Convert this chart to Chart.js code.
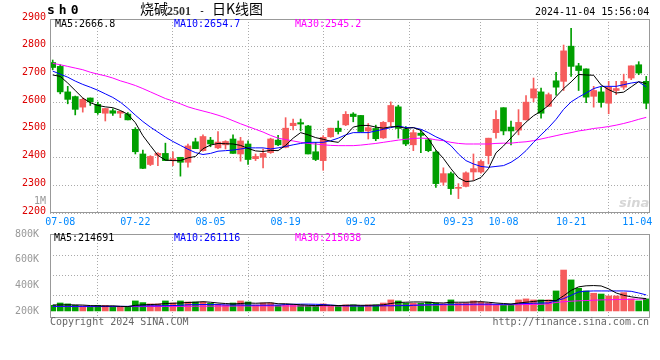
<!DOCTYPE html>
<html>
<head>
<meta charset="utf-8">
<script src="https://cdn.jsdelivr.net/npm/chart.js@4.4.1/dist/chart.umd.min.js"></script>
<style>
  body { margin: 0; background: #fff; width: 660px; height: 360px; position: relative; overflow: hidden; }
  canvas { position: absolute; left: 0; }
  #main { top: 0; }
  #vol { top: 226px; }
  .t { position: absolute; white-space: pre; font: 10px/12px 'DejaVu Sans Mono', monospace; color: #000; }
  .cjk { font: 14px/16px 'Noto Sans CJK SC', sans-serif; }
</style>
</head>
<body>
<canvas id="main" width="660" height="235"></canvas>
<canvas id="vol" width="660" height="100"></canvas>

<div class="t" style="left:47px;top:3px;font-weight:bold;font-size:13px;line-height:14px;letter-spacing:4px">sh0</div>
<div class="t cjk" style="left:140px;top:0">烧碱</div>
<div class="t" style="left:167px;top:4px;font:bold 12px/14px 'Liberation Serif',serif;color:#333">2501</div>
<div class="t" style="left:199px;top:5px">-</div>
<div class="t cjk" style="left:212px;top:0">日K线图</div>
<div class="t" style="left:535px;top:6px">2024-11-04 15:56:04</div>

<div class="t" style="left:55px;top:18px">MA5:2666.8</div>
<div class="t" style="left:174px;top:18px;color:#0000ff">MA10:2654.7</div>
<div class="t" style="left:295px;top:18px;color:#ff00ff">MA30:2545.2</div>
<div class="t" style="right:614px;top:195px;color:#999">1M</div>
<div class="t" style="left:619px;top:195px;font:italic bold 13px/15px 'DejaVu Sans',sans-serif;color:#d6d6d6">sina</div>

<div class="t" style="left:54px;top:232px">MA5:214691</div>
<div class="t" style="left:174px;top:232px;color:#0000ff">MA10:261116</div>
<div class="t" style="left:295px;top:232px;color:#ff00ff">MA30:215038</div>

<div class="t" style="left:50px;top:316px;color:#666">Copyright 2024 SINA.COM</div>
<div class="t" style="right:11px;top:316px;color:#666">http://finance.sina.com.cn</div>

<script>
// trading days shown, 07-05 .. 11-04
const dates = [
  '07-05','07-08','07-09','07-10','07-11','07-12','07-15','07-16','07-17','07-18',
  '07-19','07-22','07-23','07-24','07-25','07-26','07-29','07-30','07-31','08-01',
  '08-02','08-05','08-06','08-07','08-08','08-09','08-12','08-13','08-14','08-15',
  '08-16','08-19','08-20','08-21','08-22','08-23','08-26','08-27','08-28','08-29',
  '08-30','09-02','09-03','09-04','09-05','09-06','09-09','09-10','09-11','09-12',
  '09-13','09-18','09-19','09-20','09-23','09-24','09-25','09-26','09-27','09-30',
  '10-08','10-09','10-10','10-11','10-14','10-15','10-16','10-17','10-18','10-21',
  '10-22','10-23','10-24','10-25','10-28','10-29','10-30','10-31','11-01','11-04'
];
const tickDates = ['07-08','07-22','08-05','08-19','09-02','09-23','10-08','10-21','11-04'];

const open = [
  2743,2729,2637,2620,2582,2615,2592,2560,2569,2560,
  2557,2502,2413,2375,2408,2415,2389,2401,2383,2457,
  2425,2463,2435,2446,2467,2413,2449,2396,2401,2418,
  2463,2437,2515,2526,2514,2421,2389,2475,2506,2518,
  2557,2552,2496,2505,2471,2529,2583,2502,2446,2488,
  2464,2420,2311,2342,2289,2296,2348,2348,2407,2490,
  2580,2510,2499,2536,2615,2637,2585,2677,2675,2802,
  2731,2720,2621,2637,2596,2642,2654,2687,2735,2675
];
const high = [
  2752,2735,2657,2622,2615,2615,2600,2577,2576,2567,
  2562,2508,2427,2407,2418,2452,2421,2401,2449,2470,
  2482,2473,2494,2461,2482,2473,2460,2413,2431,2470,
  2480,2544,2539,2539,2516,2455,2479,2506,2532,2566,
  2562,2552,2523,2517,2530,2601,2589,2512,2499,2499,
  2467,2425,2363,2348,2306,2349,2413,2392,2470,2570,
  2580,2532,2573,2624,2687,2651,2633,2708,2806,2866,
  2740,2720,2657,2654,2675,2675,2701,2731,2746,2693
];
const low = [
  2717,2630,2594,2554,2564,2588,2556,2532,2552,2544,
  2536,2413,2360,2371,2371,2389,2371,2333,2365,2432,
  2423,2439,2432,2431,2415,2387,2375,2389,2363,2415,
  2443,2435,2500,2496,2413,2389,2354,2473,2485,2515,
  2529,2492,2467,2461,2469,2514,2470,2443,2425,2418,
  2421,2292,2300,2267,2252,2294,2318,2344,2377,2470,
  2482,2446,2482,2536,2601,2542,2585,2625,2642,2693,
  2642,2598,2582,2582,2558,2627,2646,2681,2699,2576
];
const close = [
  2725,2637,2610,2574,2610,2601,2562,2577,2560,2567,
  2536,2421,2361,2404,2415,2389,2396,2383,2442,2432,
  2476,2449,2456,2458,2415,2460,2393,2404,2415,2467,
  2446,2506,2524,2521,2413,2393,2473,2506,2494,2556,
  2548,2494,2508,2468,2527,2588,2505,2449,2490,2480,
  2425,2306,2342,2288,2292,2345,2360,2386,2470,2538,
  2496,2496,2527,2600,2648,2560,2627,2654,2785,2729,
  2714,2618,2642,2599,2654,2649,2675,2731,2705,2596
];
const ma5 = [
  2698,2693,2669,2642,2615,2598,2588,2583,2580,2570,
  2556,2526,2479,2443,2408,2391,2389,2389,2399,2404,
  2432,2445,2451,2450,2449,2444,2433,2424,2422,2426,
  2425,2444,2470,2490,2482,2472,2466,2459,2455,2480,
  2510,2516,2516,2510,2506,2511,2512,2505,2508,2498,
  2468,2427,2397,2360,2327,2313,2316,2328,2360,2417,
  2442,2471,2500,2528,2551,2567,2588,2620,2649,2673,
  2700,2698,2697,2662,2645,2633,2636,2655,2674,2667
];
const ma10 = [
  2712,2701,2690,2676,2664,2654,2643,2630,2617,2600,
  2578,2553,2530,2510,2492,2474,2458,2444,2430,2418,
  2411,2415,2423,2425,2427,2431,2435,2435,2435,2431,
  2435,2440,2446,2451,2455,2455,2455,2461,2470,2482,
  2490,2490,2490,2496,2502,2508,2514,2508,2508,2502,
  2490,2475,2463,2443,2413,2389,2377,2368,2365,2368,
  2371,2383,2401,2425,2455,2482,2508,2538,2574,2601,
  2618,2633,2649,2657,2657,2657,2663,2669,2673,2655
];
const ma30 = [
  2740,2735,2729,2723,2717,2708,2701,2695,2687,2677,
  2669,2660,2649,2637,2625,2613,2604,2594,2583,2575,
  2568,2561,2553,2544,2533,2522,2512,2502,2492,2480,
  2470,2465,2460,2455,2451,2449,2446,2444,2443,2443,
  2443,2445,2448,2451,2455,2459,2463,2466,2469,2470,
  2469,2464,2461,2455,2451,2449,2449,2449,2449,2451,
  2452,2452,2455,2457,2461,2467,2473,2479,2485,2490,
  2496,2500,2505,2508,2512,2517,2523,2530,2538,2545
];

const volume = [
  244000,262000,255000,244000,239000,234000,244000,244000,234000,231000,
  231000,278000,265000,255000,255000,278000,262000,278000,270000,270000,
  270000,260000,252000,247000,262000,278000,270000,247000,262000,262000,
  244000,247000,244000,244000,239000,239000,255000,239000,239000,247000,
  247000,239000,247000,247000,262000,286000,278000,260000,260000,260000,
  270000,260000,255000,286000,260000,262000,278000,270000,262000,247000,
  247000,247000,286000,294000,286000,286000,286000,356000,519000,442000,
  377000,356000,338000,332000,317000,317000,343000,294000,278000,294000
];
const vma5 = [
  247000,247000,248000,247000,246000,242000,240000,238000,240000,236000,
  234000,244000,248000,250000,252000,258000,260000,262000,266000,268000,
  272000,268000,262000,258000,254000,258000,262000,260000,262000,264000,
  256000,256000,252000,248000,244000,242000,244000,244000,242000,244000,
  246000,244000,244000,246000,248000,258000,266000,268000,270000,270000,
  268000,264000,262000,268000,268000,268000,270000,272000,268000,262000,
  258000,254000,262000,268000,274000,280000,282000,280000,318000,360000,
  388000,396000,398000,395000,372000,340000,322000,310000,302000,296000
];
const vma10 = [
  236000,236000,236000,236000,236000,236000,236000,236000,236000,236000,
  236000,239000,239000,240000,240000,241000,242000,244000,248000,249000,
  250000,250000,249000,247000,246000,246000,245000,245000,245000,245000,
  246000,250000,252000,253000,253000,252000,250000,246000,242000,240000,
  239000,239000,239000,239000,240000,240000,241000,242000,244000,246000,
  248000,250000,252000,252000,252000,252000,253000,253000,253000,252000,
  252000,252000,256000,258000,260000,262000,262000,280000,296000,322000,
  348000,354000,356000,356000,356000,356000,356000,353000,340000,325000
];
const vma30 = [
  235000,235000,234000,234000,234000,234000,234000,234000,234000,234000,
  234000,234000,234000,235000,235000,235000,236000,236000,236000,237000,
  237000,237000,238000,238000,238000,239000,239000,239000,239000,239000,
  239000,239000,239000,239000,239000,239000,239000,239000,239000,239000,
  240000,240000,241000,242000,243000,244000,244000,244000,245000,245000,
  246000,246000,247000,247000,247000,247000,247000,247000,247000,247000,
  248000,248000,249000,250000,251000,252000,256000,266000,272000,276000,
  279000,281000,284000,286000,287000,289000,290000,291000,292000,293000
];
const volTicks = [200000, 400000, 600000, 800000];

const RED = '#f65c5c', GREEN = '#009f00';
const MONO = "'DejaVu Sans Mono', monospace";
Chart.defaults.font.family = MONO;
Chart.defaults.font.size = 10;

const idx = dates.map((d, i) => i);
const up = close.map((c, i) => c >= open[i]);
const barColors = up.map(u => u ? RED : GREEN);
const tickIdx = tickDates.map(d => dates.indexOf(d));
const pts = arr => idx.map(i => ({x: i, y: arr[i]}));

// grey box round each pane
const frame = {
  id: 'frame',
  afterDraw(chart) {
    const {ctx, chartArea: a} = chart;
    ctx.save();
    ctx.strokeStyle = '#999';
    ctx.lineWidth = 1;
    ctx.strokeRect(Math.round(a.left) + 0.5, Math.round(a.top) + 0.5,
      Math.round(a.right - a.left) - 1, Math.round(a.bottom - a.top) - 1);
    ctx.restore();
  }
};

function maLine(arr, color) {
  return {type: 'line', data: pts(arr), borderColor: color, borderWidth: 1,
    pointRadius: 0, tension: 0, order: 1};
}

const xScale = (showLabels) => ({
  type: 'linear', min: -0.36, max: 79.5, offset: false,
  afterBuildTicks: s => { s.ticks = tickIdx.map(v => ({value: v})); },
  afterFit: s => {
    s.height = showLabels ? 22 : 0;
    s.paddingLeft = 0;
    s.paddingRight = 0;
  },
  grid: {color: '#aaa', drawTicks: false},
  border: {display: false, dash: [1, 2]},
  ticks: {display: showLabels, color: '#0088ff', padding: 3, maxRotation: 0, autoSkip: false,
    callback: v => v === dates.length - 1 ? dates[v] + '   ' : dates[v]}
});

new Chart(document.getElementById('main'), {
  type: 'bar',
  data: {
    datasets: [
      maLine(ma5, '#000000'),
      maLine(ma10, '#0000ff'),
      maLine(ma30, '#ff00ff'),
      {data: idx.map(i => ({x: i, y: [open[i], close[i]]})), backgroundColor: barColors,
        barThickness: 6, grouped: false, minBarLength: 1, order: 2},
      {data: idx.map(i => ({x: i, y: [low[i], high[i]]})), backgroundColor: barColors,
        barThickness: 1, grouped: false, order: 3}
    ]
  },
  options: {
    responsive: false, animation: false, devicePixelRatio: 1,
    layout: {padding: {left: 0, right: 10, top: 19, bottom: 0}, autoPadding: false},
    plugins: {legend: {display: false}, tooltip: {enabled: false}},
    scales: {
      x: xScale(true),
      y: {
        min: 2200, max: 2900,
        afterFit: s => { s.width = 50; s.paddingTop = 0; s.paddingBottom = 0; },
        grid: {color: '#aaa', drawTicks: false},
        border: {display: false, dash: [1, 2]},
        ticks: {stepSize: 100, color: '#dd0000', padding: 4, labelOffset: -2, callback: v => String(v)}
      }
    }
  },
  plugins: [frame]
});

new Chart(document.getElementById('vol'), {
  type: 'bar',
  data: {
    datasets: [
      maLine(vma5, '#000000'),
      maLine(vma10, '#0000ff'),
      maLine(vma30, '#ff00ff'),
      {data: pts(volume), backgroundColor: barColors, barThickness: 6,
        grouped: false, base: 200000, order: 2}
    ]
  },
  options: {
    responsive: false, animation: false, devicePixelRatio: 1,
    layout: {padding: {left: 0, right: 10, top: 8, bottom: 8}, autoPadding: false},
    plugins: {legend: {display: false}, tooltip: {enabled: false}},
    scales: {
      x: xScale(false),
      y: {
        min: 145000, max: 800000,
        afterBuildTicks: s => { s.ticks = volTicks.map(v => ({value: v})); },
        afterFit: s => { s.width = 50; s.paddingTop = 0; s.paddingBottom = 0; },
        grid: {display: false},
        border: {display: false},
        ticks: {color: '#999', padding: 3, callback: v => (v / 1000) + 'K'}
      },
      // dotted horizontal guides of the volume pane
      yg: {
        position: 'left', min: 0, max: 84,
        afterBuildTicks: s => { s.ticks = [23, 43, 63].map(v => ({value: v})); },
        afterFit: s => { s.width = 0; },
        grid: {color: '#aaa', drawTicks: false},
        border: {display: false, dash: [1, 2]},
        ticks: {display: false}
      }
    }
  },
  plugins: [frame]
});
</script>
</body>
</html>
